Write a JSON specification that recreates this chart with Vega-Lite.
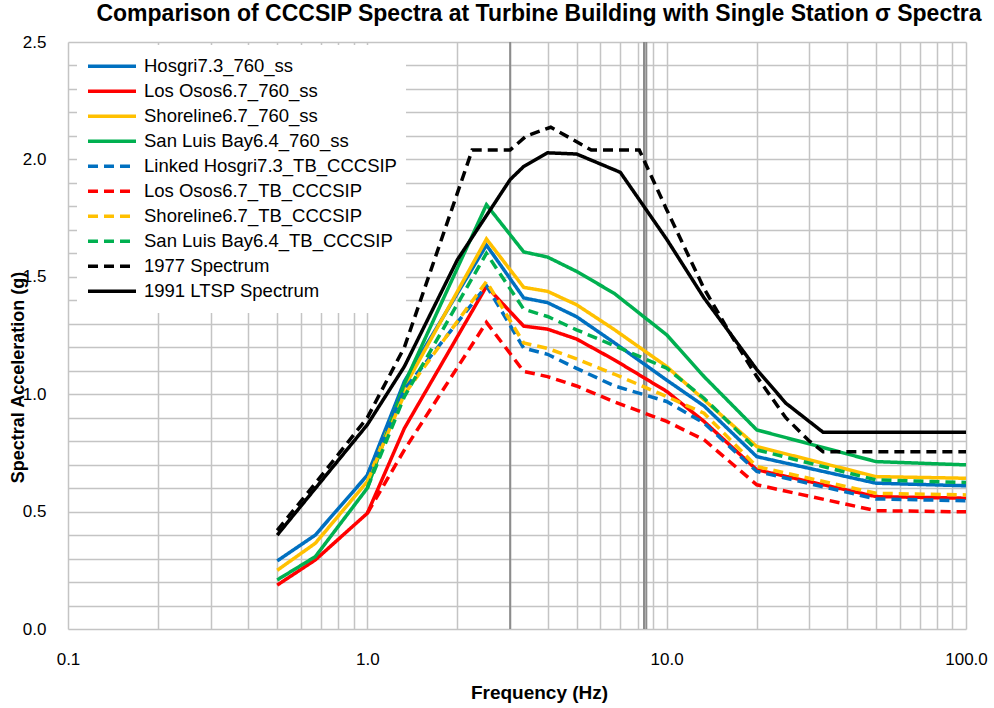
{
  "$schema": "https://vega.github.io/schema/vega-lite/v6.json",
  "autosize": {"type": "none"},
  "width": 898,
  "height": 587,
  "padding": {"left": 68, "top": 42, "right": 28, "bottom": 79},
  "background": "white",
  "config": {
    "font": "Liberation Sans",
    "view": {"stroke": null},
    "legend": {
      "orient": "none",
      "legendX": 9,
      "legendY": 3,
      "fillColor": "white",
      "padding": 9,
      "symbolType": "stroke",
      "symbolSize": 2304,
      "symbolStrokeWidth": 3.5,
      "labelFontSize": 18.5,
      "labelFont": "Liberation Sans",
      "labelColor": "#000000",
      "labelOffset": 6,
      "labelLimit": 0,
      "clipHeight": 24.5,
      "rowPadding": 0,
      "title": null
    }
  },
  "title": {
    "text": "Comparison of CCCSIP Spectra at Turbine Building with Single Station σ Spectra",
    "fontSize": 23,
    "fontWeight": "bold",
    "anchor": "middle",
    "dx": 22,
    "offset": 7,
    "color": "#000000"
  },
  "datasets": {
    "spectra": [
      {"s": "Hosgri7.3_760_ss", "f": 0.5, "v": 0.29},
      {"s": "Hosgri7.3_760_ss", "f": 0.67, "v": 0.4},
      {"s": "Hosgri7.3_760_ss", "f": 1.0, "v": 0.655},
      {"s": "Hosgri7.3_760_ss", "f": 1.33, "v": 1.055},
      {"s": "Hosgri7.3_760_ss", "f": 2.5, "v": 1.635},
      {"s": "Hosgri7.3_760_ss", "f": 3.33, "v": 1.41},
      {"s": "Hosgri7.3_760_ss", "f": 4.0, "v": 1.39},
      {"s": "Hosgri7.3_760_ss", "f": 5.0, "v": 1.33},
      {"s": "Hosgri7.3_760_ss", "f": 6.67, "v": 1.22},
      {"s": "Hosgri7.3_760_ss", "f": 10.0, "v": 1.06},
      {"s": "Hosgri7.3_760_ss", "f": 13.33, "v": 0.95},
      {"s": "Hosgri7.3_760_ss", "f": 20.0, "v": 0.734},
      {"s": "Hosgri7.3_760_ss", "f": 50.0, "v": 0.621},
      {"s": "Hosgri7.3_760_ss", "f": 100.0, "v": 0.61},

      {"s": "Los Osos6.7_760_ss", "f": 0.5, "v": 0.187},
      {"s": "Los Osos6.7_760_ss", "f": 0.67, "v": 0.294},
      {"s": "Los Osos6.7_760_ss", "f": 1.0, "v": 0.493},
      {"s": "Los Osos6.7_760_ss", "f": 1.33, "v": 0.855},
      {"s": "Los Osos6.7_760_ss", "f": 2.5, "v": 1.459},
      {"s": "Los Osos6.7_760_ss", "f": 3.33, "v": 1.29},
      {"s": "Los Osos6.7_760_ss", "f": 4.0, "v": 1.277},
      {"s": "Los Osos6.7_760_ss", "f": 5.0, "v": 1.235},
      {"s": "Los Osos6.7_760_ss", "f": 6.67, "v": 1.147},
      {"s": "Los Osos6.7_760_ss", "f": 10.0, "v": 1.012},
      {"s": "Los Osos6.7_760_ss", "f": 13.33, "v": 0.884},
      {"s": "Los Osos6.7_760_ss", "f": 20.0, "v": 0.678},
      {"s": "Los Osos6.7_760_ss", "f": 50.0, "v": 0.564},
      {"s": "Los Osos6.7_760_ss", "f": 100.0, "v": 0.557},

      {"s": "Shoreline6.7_760_ss", "f": 0.5, "v": 0.25},
      {"s": "Shoreline6.7_760_ss", "f": 0.67, "v": 0.365},
      {"s": "Shoreline6.7_760_ss", "f": 1.0, "v": 0.628},
      {"s": "Shoreline6.7_760_ss", "f": 1.33, "v": 1.03},
      {"s": "Shoreline6.7_760_ss", "f": 2.5, "v": 1.661},
      {"s": "Shoreline6.7_760_ss", "f": 3.33, "v": 1.455},
      {"s": "Shoreline6.7_760_ss", "f": 4.0, "v": 1.438},
      {"s": "Shoreline6.7_760_ss", "f": 5.0, "v": 1.381},
      {"s": "Shoreline6.7_760_ss", "f": 6.67, "v": 1.276},
      {"s": "Shoreline6.7_760_ss", "f": 10.0, "v": 1.118},
      {"s": "Shoreline6.7_760_ss", "f": 13.33, "v": 0.976},
      {"s": "Shoreline6.7_760_ss", "f": 20.0, "v": 0.777},
      {"s": "Shoreline6.7_760_ss", "f": 50.0, "v": 0.649},
      {"s": "Shoreline6.7_760_ss", "f": 100.0, "v": 0.642},

      {"s": "San Luis Bay6.4_760_ss", "f": 0.5, "v": 0.209},
      {"s": "San Luis Bay6.4_760_ss", "f": 0.67, "v": 0.308},
      {"s": "San Luis Bay6.4_760_ss", "f": 1.0, "v": 0.6},
      {"s": "San Luis Bay6.4_760_ss", "f": 1.33, "v": 1.045},
      {"s": "San Luis Bay6.4_760_ss", "f": 2.5, "v": 1.807},
      {"s": "San Luis Bay6.4_760_ss", "f": 3.33, "v": 1.606},
      {"s": "San Luis Bay6.4_760_ss", "f": 4.0, "v": 1.584},
      {"s": "San Luis Bay6.4_760_ss", "f": 5.0, "v": 1.523},
      {"s": "San Luis Bay6.4_760_ss", "f": 6.67, "v": 1.43},
      {"s": "San Luis Bay6.4_760_ss", "f": 10.0, "v": 1.253},
      {"s": "San Luis Bay6.4_760_ss", "f": 13.33, "v": 1.075},
      {"s": "San Luis Bay6.4_760_ss", "f": 20.0, "v": 0.848},
      {"s": "San Luis Bay6.4_760_ss", "f": 50.0, "v": 0.713},
      {"s": "San Luis Bay6.4_760_ss", "f": 100.0, "v": 0.699},

      {"s": "Linked Hosgri7.3_TB_CCCSIP", "f": 1.0, "v": 0.655},
      {"s": "Linked Hosgri7.3_TB_CCCSIP", "f": 1.33, "v": 1.02},
      {"s": "Linked Hosgri7.3_TB_CCCSIP", "f": 2.5, "v": 1.462},
      {"s": "Linked Hosgri7.3_TB_CCCSIP", "f": 3.33, "v": 1.196},
      {"s": "Linked Hosgri7.3_TB_CCCSIP", "f": 4.0, "v": 1.17},
      {"s": "Linked Hosgri7.3_TB_CCCSIP", "f": 5.0, "v": 1.11},
      {"s": "Linked Hosgri7.3_TB_CCCSIP", "f": 6.67, "v": 1.036},
      {"s": "Linked Hosgri7.3_TB_CCCSIP", "f": 10.0, "v": 0.969},
      {"s": "Linked Hosgri7.3_TB_CCCSIP", "f": 13.33, "v": 0.877},
      {"s": "Linked Hosgri7.3_TB_CCCSIP", "f": 20.0, "v": 0.671},
      {"s": "Linked Hosgri7.3_TB_CCCSIP", "f": 50.0, "v": 0.554},
      {"s": "Linked Hosgri7.3_TB_CCCSIP", "f": 100.0, "v": 0.546},

      {"s": "Los Osos6.7_TB_CCCSIP", "f": 1.0, "v": 0.493},
      {"s": "Los Osos6.7_TB_CCCSIP", "f": 1.33, "v": 0.763},
      {"s": "Los Osos6.7_TB_CCCSIP", "f": 2.5, "v": 1.306},
      {"s": "Los Osos6.7_TB_CCCSIP", "f": 3.33, "v": 1.097},
      {"s": "Los Osos6.7_TB_CCCSIP", "f": 4.0, "v": 1.075},
      {"s": "Los Osos6.7_TB_CCCSIP", "f": 5.0, "v": 1.035},
      {"s": "Los Osos6.7_TB_CCCSIP", "f": 6.67, "v": 0.968},
      {"s": "Los Osos6.7_TB_CCCSIP", "f": 10.0, "v": 0.884},
      {"s": "Los Osos6.7_TB_CCCSIP", "f": 13.33, "v": 0.806},
      {"s": "Los Osos6.7_TB_CCCSIP", "f": 20.0, "v": 0.614},
      {"s": "Los Osos6.7_TB_CCCSIP", "f": 50.0, "v": 0.504},
      {"s": "Los Osos6.7_TB_CCCSIP", "f": 100.0, "v": 0.499},

      {"s": "Shoreline6.7_TB_CCCSIP", "f": 1.0, "v": 0.628},
      {"s": "Shoreline6.7_TB_CCCSIP", "f": 1.33, "v": 1.0},
      {"s": "Shoreline6.7_TB_CCCSIP", "f": 2.5, "v": 1.48},
      {"s": "Shoreline6.7_TB_CCCSIP", "f": 3.33, "v": 1.218},
      {"s": "Shoreline6.7_TB_CCCSIP", "f": 4.0, "v": 1.195},
      {"s": "Shoreline6.7_TB_CCCSIP", "f": 5.0, "v": 1.15},
      {"s": "Shoreline6.7_TB_CCCSIP", "f": 6.67, "v": 1.086},
      {"s": "Shoreline6.7_TB_CCCSIP", "f": 10.0, "v": 0.99},
      {"s": "Shoreline6.7_TB_CCCSIP", "f": 13.33, "v": 0.919},
      {"s": "Shoreline6.7_TB_CCCSIP", "f": 20.0, "v": 0.692},
      {"s": "Shoreline6.7_TB_CCCSIP", "f": 50.0, "v": 0.578},
      {"s": "Shoreline6.7_TB_CCCSIP", "f": 100.0, "v": 0.571},

      {"s": "San Luis Bay6.4_TB_CCCSIP", "f": 1.0, "v": 0.6},
      {"s": "San Luis Bay6.4_TB_CCCSIP", "f": 1.33, "v": 0.99},
      {"s": "San Luis Bay6.4_TB_CCCSIP", "f": 2.5, "v": 1.6},
      {"s": "San Luis Bay6.4_TB_CCCSIP", "f": 3.33, "v": 1.362},
      {"s": "San Luis Bay6.4_TB_CCCSIP", "f": 4.0, "v": 1.331},
      {"s": "San Luis Bay6.4_TB_CCCSIP", "f": 5.0, "v": 1.274},
      {"s": "San Luis Bay6.4_TB_CCCSIP", "f": 6.67, "v": 1.207},
      {"s": "San Luis Bay6.4_TB_CCCSIP", "f": 10.0, "v": 1.111},
      {"s": "San Luis Bay6.4_TB_CCCSIP", "f": 13.33, "v": 0.983},
      {"s": "San Luis Bay6.4_TB_CCCSIP", "f": 20.0, "v": 0.763},
      {"s": "San Luis Bay6.4_TB_CCCSIP", "f": 50.0, "v": 0.635},
      {"s": "San Luis Bay6.4_TB_CCCSIP", "f": 100.0, "v": 0.624},

      {"s": "1977 Spectrum", "f": 0.5, "v": 0.42},
      {"s": "1977 Spectrum", "f": 0.67, "v": 0.62},
      {"s": "1977 Spectrum", "f": 1.0, "v": 0.9},
      {"s": "1977 Spectrum", "f": 1.33, "v": 1.2},
      {"s": "1977 Spectrum", "f": 2.24, "v": 2.04},
      {"s": "1977 Spectrum", "f": 3.0, "v": 2.04},
      {"s": "1977 Spectrum", "f": 3.4, "v": 2.1},
      {"s": "1977 Spectrum", "f": 4.1, "v": 2.137},
      {"s": "1977 Spectrum", "f": 5.6, "v": 2.04},
      {"s": "1977 Spectrum", "f": 8.1, "v": 2.04},
      {"s": "1977 Spectrum", "f": 10.0, "v": 1.786},
      {"s": "1977 Spectrum", "f": 13.33, "v": 1.45},
      {"s": "1977 Spectrum", "f": 16.8, "v": 1.23},
      {"s": "1977 Spectrum", "f": 20.0, "v": 1.075},
      {"s": "1977 Spectrum", "f": 25.0, "v": 0.9},
      {"s": "1977 Spectrum", "f": 30.0, "v": 0.8},
      {"s": "1977 Spectrum", "f": 33.3, "v": 0.755},
      {"s": "1977 Spectrum", "f": 100.0, "v": 0.755},

      {"s": "1991 LTSP Spectrum", "f": 0.5, "v": 0.4},
      {"s": "1991 LTSP Spectrum", "f": 1.0, "v": 0.87},
      {"s": "1991 LTSP Spectrum", "f": 1.33, "v": 1.118},
      {"s": "1991 LTSP Spectrum", "f": 2.0, "v": 1.573},
      {"s": "1991 LTSP Spectrum", "f": 3.0, "v": 1.914},
      {"s": "1991 LTSP Spectrum", "f": 3.33, "v": 1.97},
      {"s": "1991 LTSP Spectrum", "f": 4.0, "v": 2.028},
      {"s": "1991 LTSP Spectrum", "f": 5.0, "v": 2.023},
      {"s": "1991 LTSP Spectrum", "f": 7.0, "v": 1.945},
      {"s": "1991 LTSP Spectrum", "f": 10.0, "v": 1.66},
      {"s": "1991 LTSP Spectrum", "f": 13.33, "v": 1.41},
      {"s": "1991 LTSP Spectrum", "f": 20.0, "v": 1.105},
      {"s": "1991 LTSP Spectrum", "f": 25.0, "v": 0.962},
      {"s": "1991 LTSP Spectrum", "f": 33.3, "v": 0.838},
      {"s": "1991 LTSP Spectrum", "f": 100.0, "v": 0.838}
    ],
    "markers": [
      {"f": 3.0},
      {"f": 8.4},
      {"f": 8.55}
    ]
  },
  "layer": [
    {
      "data": {"name": "markers"},
      "mark": {"type": "rule", "color": "#8c8c8c", "strokeWidth": 2},
      "encoding": {
        "x": {"field": "f", "type": "quantitative", "scale": {"type": "log", "domain": [0.1, 100], "nice": false}}
      }
    },
    {
      "data": {"name": "spectra"},
      "mark": {"type": "line", "strokeWidth": 3.5, "clip": true},
      "encoding": {
        "x": {
          "field": "f",
          "type": "quantitative",
          "scale": {"type": "log", "domain": [0.1, 100], "nice": false},
          "axis": {
            "values": [0.1, 0.2, 0.3, 0.4, 0.5, 0.6, 0.7, 0.8, 0.9, 1, 2, 3, 4, 5, 6, 7, 8, 9, 10, 20, 30, 40, 50, 60, 70, 80, 90, 100],
            "labelExpr": "abs(log(datum.value)/LN10 - round(log(datum.value)/LN10)) < 0.000001 ? format(datum.value, '.1f') : ''",
            "grid": true,
            "gridColor": "#c4c4c4",
            "gridWidth": 1.5,
            "domain": false,
            "ticks": false,
            "labelFontSize": 17,
            "labelColor": "#000000",
            "labelPadding": 22,
            "labelFlush": false,
            "labelOverlap": false,
            "title": "Frequency (Hz)",
            "titleFontSize": 19,
            "titleFontWeight": "bold",
            "titleColor": "#000000",
            "titleX": 471,
            "titleY": 63,
            "titleBaseline": "middle",
            "titleAlign": "center"
          }
        },
        "y": {
          "field": "v",
          "type": "quantitative",
          "scale": {"domain": [0, 2.5], "nice": false},
          "axis": {
            "values": [0, 0.1, 0.2, 0.3, 0.4, 0.5, 0.6, 0.7, 0.8, 0.9, 1.0, 1.1, 1.2, 1.3, 1.4, 1.5, 1.6, 1.7, 1.8, 1.9, 2.0, 2.1, 2.2, 2.3, 2.4, 2.5],
            "labelExpr": "abs(datum.value*2 - round(datum.value*2)) < 0.000001 ? format(datum.value, '.1f') : ''",
            "grid": true,
            "gridColor": "#c4c4c4",
            "gridWidth": 1.5,
            "domain": false,
            "ticks": false,
            "labelFontSize": 17,
            "labelColor": "#000000",
            "labelPadding": 22,
            "labelOverlap": false,
            "title": "Spectral Acceleration (g)",
            "titleFontSize": 18,
            "titleFontWeight": "bold",
            "titleColor": "#000000",
            "titleX": -50,
            "titleY": 335,
            "titleAlign": "center",
            "titleBaseline": "middle"
          }
        },
        "color": {
          "field": "s",
          "type": "nominal",
          "scale": {
            "domain": ["Hosgri7.3_760_ss", "Los Osos6.7_760_ss", "Shoreline6.7_760_ss", "San Luis Bay6.4_760_ss", "Linked Hosgri7.3_TB_CCCSIP", "Los Osos6.7_TB_CCCSIP", "Shoreline6.7_TB_CCCSIP", "San Luis Bay6.4_TB_CCCSIP", "1977 Spectrum", "1991 LTSP Spectrum"],
            "range": ["#0070C0", "#FF0000", "#FFC000", "#00B050", "#0070C0", "#FF0000", "#FFC000", "#00B050", "#000000", "#000000"]
          },
          "legend": {"title": null}
        },
        "strokeDash": {
          "field": "s",
          "type": "nominal",
          "scale": {
            "domain": ["Hosgri7.3_760_ss", "Los Osos6.7_760_ss", "Shoreline6.7_760_ss", "San Luis Bay6.4_760_ss", "Linked Hosgri7.3_TB_CCCSIP", "Los Osos6.7_TB_CCCSIP", "Shoreline6.7_TB_CCCSIP", "San Luis Bay6.4_TB_CCCSIP", "1977 Spectrum", "1991 LTSP Spectrum"],
            "range": [[1, 0], [1, 0], [1, 0], [1, 0], [10, 6], [10, 6], [10, 6], [10, 6], [10, 6], [1, 0]]
          },
          "legend": {"title": null}
        }
      }
    }
  ]
}
